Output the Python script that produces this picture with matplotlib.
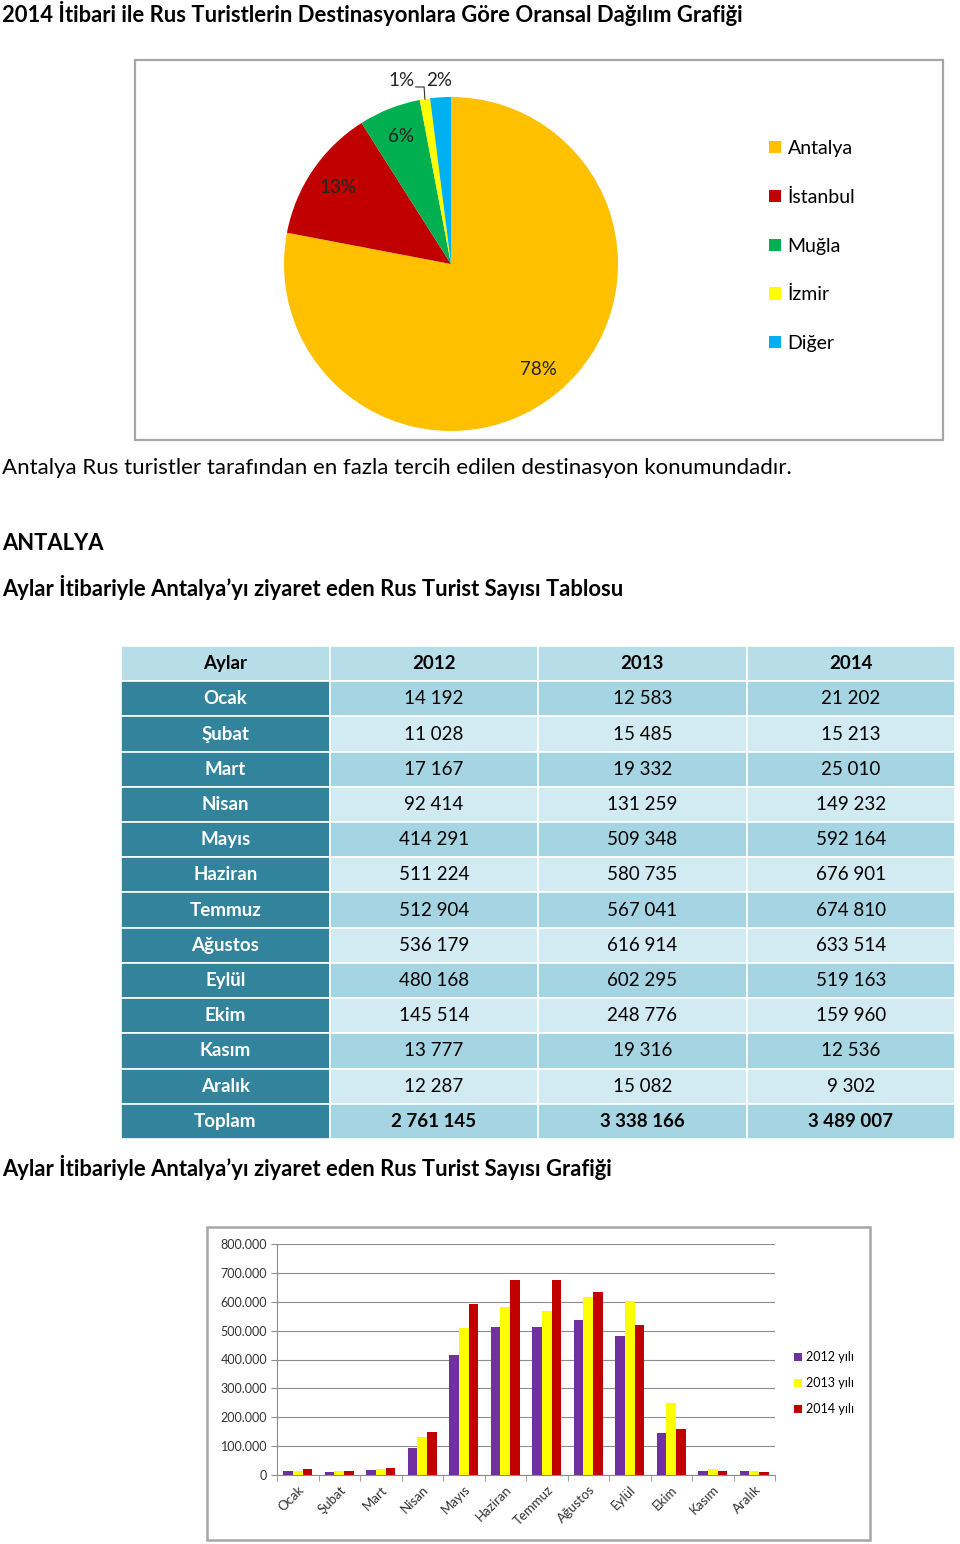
import matplotlib
matplotlib.use("Agg")
import matplotlib.pyplot as plt
import matplotlib.patches as mpatches
from matplotlib.ticker import FuncFormatter, FixedLocator
import numpy as np

plt.rcParams['font.family'] = ['Lato', 'DejaVu Sans']

W, H = 960, 1544

# --- data ---
destinations = ['Antalya', 'İstanbul', 'Muğla', 'İzmir', 'Diğer']
dest_share = [78, 13, 6, 1, 2]
dest_colors = ['#FFC000', '#C00000', '#00B050', '#FFFF00', '#00B0F0']

months = ['Ocak', 'Şubat', 'Mart', 'Nisan', 'Mayıs', 'Haziran', 'Temmuz',
          'Ağustos', 'Eylül', 'Ekim', 'Kasım', 'Aralık']
years = ['2012', '2013', '2014']
v2012 = [14192, 11028, 17167, 92414, 414291, 511224, 512904, 536179, 480168, 145514, 13777, 12287]
v2013 = [12583, 15485, 19332, 131259, 509348, 580735, 567041, 616914, 602295, 248776, 19316, 15082]
v2014 = [21202, 15213, 25010, 149232, 592164, 676901, 674810, 633514, 519163, 159960, 12536, 9302]
bar_colors = ['#7030A0', '#FFFF00', '#C00000']
yticks = [0, 100000, 200000, 300000, 400000, 500000, 600000, 700000, 800000]


def fx(x):
    return x / W


def fy(y):
    return 1 - y / H


def box(x0, y0, x1, y1):
    # axes rect from pixel box (top-left origin)
    return [fx(x0), fy(y1), (x1 - x0) / W, (y1 - y0) / H]


def fmt_space(v):
    return f"{v:,}".replace(",", " ")


fig = plt.figure(figsize=(W / 100, H / 100), dpi=100)
fig.patch.set_facecolor('white')

# --- headings ---
fig.text(fx(2), fy(14), "2014 İtibari ile Rus Turistlerin Destinasyonlara Göre Oransal Dağılım Grafiği",
         fontsize=15.8, fontweight='bold', va='center', ha='left')
fig.text(fx(2), fy(468), "Antalya Rus turistler tarafından en fazla tercih edilen destinasyon konumundadır.",
         fontsize=16, va='center', ha='left')
fig.text(fx(2), fy(544), "ANTALYA", fontsize=15.8, fontweight='bold', va='center', ha='left')
fig.text(fx(2), fy(587), "Aylar İtibariyle Antalya’yı ziyaret eden Rus Turist Sayısı Tablosu",
         fontsize=15.8, fontweight='bold', va='center', ha='left')
fig.text(fx(2), fy(1167), "Aylar İtibariyle Antalya’yı ziyaret eden Rus Turist Sayısı Grafiği",
         fontsize=15.8, fontweight='bold', va='center', ha='left')

# --- pie chart ---
fig.patches.append(mpatches.Rectangle((fx(135), fy(440)), 808 / W, 380 / H, transform=fig.transFigure,
                                      facecolor='white', edgecolor='#A6A6A6', lw=1.6, zorder=-5))
ax_pie = fig.add_axes(box(284, 97, 618, 431))
wedges, texts, autotexts = ax_pie.pie(dest_share, colors=dest_colors, startangle=90, counterclock=False,
                                      autopct='%1.0f%%', pctdistance=0.82,
                                      wedgeprops=dict(linewidth=0),
                                      textprops=dict(fontsize=13.5, color='#222222'))
ax_pie.set_xlim(-1, 1)
ax_pie.set_ylim(-1, 1)

# small slices: labels outside
w_iz = wedges[3]
a_iz = np.deg2rad((w_iz.theta1 + w_iz.theta2) / 2)
x0, y0 = np.cos(a_iz), np.sin(a_iz)
ax_pie.plot([x0, x0 * 1.03, x0 * 1.03 - 0.05], [y0, 1.06, 1.06], color='#333333', lw=0.8, clip_on=False)
autotexts[3].set_position((x0 * 1.03 - 0.06, 1.10))
autotexts[3].set_ha('right')
w_dg = wedges[4]
a_dg = np.deg2rad((w_dg.theta1 + w_dg.theta2) / 2)
autotexts[4].set_position((np.cos(a_dg) * 1.1 - 0.0, 1.10))

fig.legend(wedges, destinations, loc='upper left', bbox_to_anchor=(fx(769), fy(140)),
           frameon=False, fontsize=14, handlelength=0.6, handleheight=0.6, handletextpad=0.35,
           labelspacing=1.63, borderpad=0, borderaxespad=0)

# --- table ---
ax_tab = fig.add_axes(box(121, 646, 955, 1139))
n_rows = len(months) + 2
ax_tab.set_xlim(0, 4)
ax_tab.set_ylim(n_rows, 0)
ax_tab.axis('off')

header = ['Aylar'] + years
rows = [header]
for i, m in enumerate(months):
    rows.append([m, fmt_space(v2012[i]), fmt_space(v2013[i]), fmt_space(v2014[i])])
rows.append(['Toplam', fmt_space(sum(v2012)), fmt_space(sum(v2013)), fmt_space(sum(v2014))])

for r, row in enumerate(rows):
    for c, val in enumerate(row):
        if r == 0:
            fc, tc, fw = '#B7DDE8', 'black', 'bold'
        elif c == 0:
            fc, tc, fw = '#31849B', 'white', 'bold'
        else:
            fc = '#A5D5E2' if r % 2 == 1 else '#D2EAF1'
            tc = 'black'
            fw = 'bold' if r == n_rows - 1 else 'normal'
        ax_tab.add_patch(mpatches.Rectangle((c, r), 1, 1, facecolor=fc, edgecolor='white', lw=1.2))
        ax_tab.text(c + 0.5, r + 0.5, val, ha='center', va='center', fontsize=13.5,
                    color=tc, fontweight=fw)

# --- bar chart ---
fig.patches.append(mpatches.Rectangle((fx(207), fy(1540)), 663 / W, 313 / H, transform=fig.transFigure,
                                      facecolor='white', edgecolor='#A6A6A6', lw=1.8, zorder=-5))
ax_bar = fig.add_axes(box(277, 1244, 775, 1475))
ax_bar.patch.set_alpha(0)
x = np.arange(len(months))
bw = 0.23
series = [v2012, v2013, v2014]
bars = []
for k, (vals, col) in enumerate(zip(series, bar_colors)):
    b = ax_bar.bar(x + (k - 1) * bw, vals, width=bw, color=col, label=f"{years[k]} yılı", zorder=3)
    bars.append(b)
ax_bar.set_xlim(-0.5, len(months) - 0.5)
ax_bar.set_ylim(0, 800000)
ax_bar.set_yticks(yticks)
ax_bar.yaxis.set_major_formatter(FuncFormatter(lambda v, p: "0" if v == 0 else f"{int(v):,}".replace(",", ".")))
ax_bar.grid(axis='y', color='#8C8C8C', lw=0.8, zorder=0)
ax_bar.set_xticks(x)
ax_bar.set_xticklabels(months, rotation=45, ha='right', rotation_mode='anchor')
ax_bar.xaxis.set_minor_locator(FixedLocator(np.arange(-0.5, len(months), 1)))
ax_bar.tick_params(axis='x', which='major', length=0, labelsize=9.5, pad=6, colors='#333333')
ax_bar.tick_params(axis='x', which='minor', length=4, color='#8C8C8C')
ax_bar.tick_params(axis='y', length=4, color='#8C8C8C', labelsize=9, labelcolor='#333333', pad=3)
for s in ['top', 'right']:
    ax_bar.spines[s].set_visible(False)
for s in ['left', 'bottom']:
    ax_bar.spines[s].set_color('#8C8C8C')
    ax_bar.spines[s].set_linewidth(0.8)

fig.legend(handles=bars, loc='upper left', bbox_to_anchor=(fx(794), fy(1351)), frameon=False,
           fontsize=9, handlelength=0.6, handleheight=0.6, handletextpad=0.35,
           labelspacing=1.13, borderpad=0, borderaxespad=0)

fig.savefig('out.png', dpi=100, facecolor='white')
